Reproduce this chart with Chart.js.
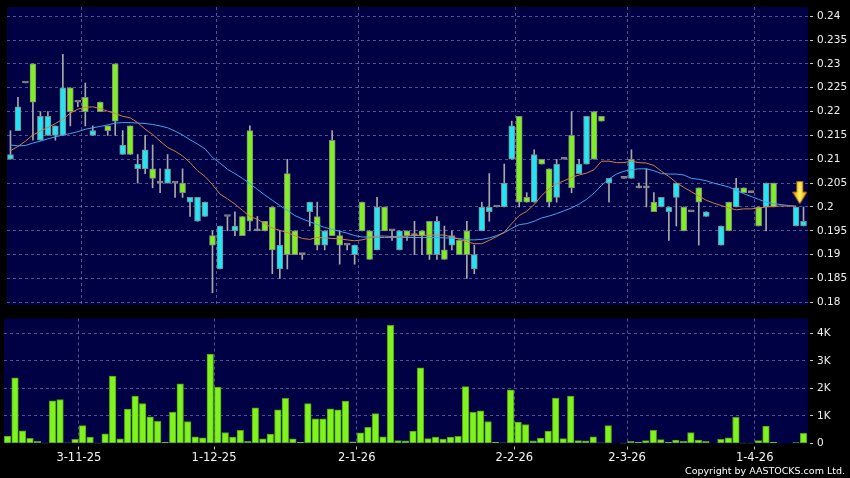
<!DOCTYPE html>
<html>
<head>
<meta charset="utf-8">
<script src="https://cdn.jsdelivr.net/npm/chart.js@4.4.1/dist/chart.umd.min.js"></script>
<style>
html, body { margin:0; padding:0; background:#000; }
#wrap { position:relative; width:850px; height:478px; overflow:hidden; background:#000; }
#price { position:absolute; left:0; top:0; }
#vol { position:absolute; left:0; top:312px; }
#copy { position:absolute; right:5px; top:465px; color:#fff; font-family:"DejaVu Sans", sans-serif; font-size:9.5px; line-height:12px; white-space:nowrap; }
</style>
</head>
<body>
<div id="wrap">
<canvas id="price" width="850" height="312"></canvas>
<canvas id="vol" width="850" height="166"></canvas>
<div id="copy">Copyright by AASTOCKS.com Ltd.</div>
</div>
<script>
// daily bars, oldest first (null = no trade that day)
var opens = [0.210,0.216,0.226,0.230,0.214,0.215,0.215,0.215,0.225,0.222,
  0.223,0.215,0.222,0.217,0.230,0.211,0.217,0.208,0.208,0.208,
  0.205,0.205,0.205,0.205,0.201,0.197,0.198,0.194,0.187,0.198,
  0.195,0.198,0.216,0.195,0.197,0.200,0.187,0.207,0.195,0.190,
  0.199,0.198,0.192,0.214,0.194,0.192,0.190,0.201,0.195,0.191,
  0.200,0.195,0.191,0.195,0.194,0.195,0.197,0.190,0.191,0.192,
  0.193,0.195,0.187,0.195,0.199,0.200,0.200,0.210,0.219,0.202,
  0.201,0.210,0.208,0.202,0.210,0.215,0.207,0.209,0.220,0.219,
  0.205,null,0.206,0.206,0.204,0.204,0.201,0.200,0.199,0.202,
  0.200,0.199,0.204,0.198,null,0.192,0.201,0.200,0.204,0.203,
  0.200,0.200,0.205,null,null,0.196,0.196];
var highs = [0.216,0.223,0.226,0.230,0.220,0.220,0.217,0.232,0.225,0.222,
  0.226,0.217,0.222,0.217,0.230,0.216,0.217,0.211,0.215,0.213,
  0.208,0.211,0.205,0.208,0.202,0.202,0.201,0.195,0.196,0.198,
  0.199,0.198,0.217,0.198,0.197,0.200,0.195,0.210,0.195,0.190,
  0.201,0.201,0.195,0.216,0.195,0.192,0.192,0.201,0.195,0.202,
  0.200,0.195,0.195,0.195,0.197,0.195,0.197,0.198,0.196,0.195,
  0.193,0.197,0.192,0.201,0.207,0.200,0.209,0.218,0.219,0.203,
  0.212,0.210,0.208,0.210,0.210,0.220,0.210,0.219,0.220,0.219,
  0.206,null,0.206,0.212,0.205,0.208,0.203,0.202,0.200,0.205,
  0.200,0.199,0.204,0.199,null,0.196,0.201,0.206,0.204,0.203,
  0.200,0.205,0.205,null,null,0.200,0.200];
var lows = [0.210,0.216,0.226,0.214,0.214,0.215,0.214,0.215,0.217,0.221,
  0.217,0.215,0.220,0.215,0.215,0.211,0.211,0.205,0.207,0.204,
  0.203,0.205,0.202,0.202,0.198,0.197,0.198,0.182,0.187,0.195,
  0.194,0.194,0.195,0.195,0.195,0.186,0.185,0.187,0.190,0.189,
  0.196,0.191,0.191,0.194,0.188,0.191,0.188,0.195,0.189,0.191,
  0.195,0.193,0.191,0.193,0.190,0.190,0.189,0.189,0.189,0.191,
  0.190,0.185,0.186,0.195,0.197,0.200,0.200,0.210,0.200,0.201,
  0.201,0.209,0.200,0.201,0.210,0.203,0.207,0.209,0.210,0.218,
  0.201,null,0.206,0.206,0.204,0.200,0.199,0.200,0.193,0.196,
  0.195,0.199,0.192,0.198,null,0.192,0.195,0.200,0.203,0.203,
  0.196,0.195,0.200,null,null,0.196,0.196];
var closes = [0.211,0.221,0.226,0.222,0.219,0.219,0.217,0.225,0.220,0.222,
  0.220,0.216,0.220,0.216,0.218,0.213,0.211,0.209,0.212,0.206,
  0.205,0.208,0.205,0.203,0.202,0.202,0.201,0.192,0.196,0.198,
  0.196,0.194,0.197,0.195,0.195,0.191,0.192,0.190,0.190,0.190,
  0.201,0.192,0.195,0.194,0.192,0.192,0.192,0.195,0.189,0.200,
  0.195,0.195,0.195,0.194,0.194,0.194,0.190,0.197,0.189,0.194,
  0.190,0.190,0.190,0.200,0.200,0.200,0.205,0.217,0.201,0.201,
  0.211,0.209,0.201,0.209,0.210,0.204,0.209,0.219,0.210,0.218,
  0.206,null,0.206,0.210,0.204,0.204,0.199,0.202,0.200,0.205,
  0.195,0.199,0.201,0.199,null,0.196,0.195,0.204,0.203,0.203,
  0.196,0.205,0.200,null,null,0.200,0.197];
// volume in thousands of shares
var volumes = [0.27,2.39,0.46,0.19,0.08,0.01,1.55,1.60,0.02,0.15,
  0.65,0.23,0.01,0.35,2.45,0.17,1.25,1.72,1.45,0.97,
  0.81,0.04,1.14,2.17,0.80,0.24,0.21,3.25,2.05,0.40,
  0.23,0.48,0.08,1.30,0.17,0.34,1.22,1.64,0.17,0.04,
  1.45,0.90,0.90,1.26,1.22,1.54,0.06,0.39,0.59,1.09,
  0.24,4.30,0.11,0.10,0.45,2.75,0.18,0.23,0.16,0.23,
  0.26,2.07,1.13,1.19,0.80,0.04,0.02,1.95,0.78,0.69,
  0.10,0.20,0.45,1.65,0.18,1.72,0.11,0.10,0.24,0.02,
  0.65,0,0.01,0.08,0.04,0.11,0.48,0.14,0.04,0.12,
  0.08,0.40,0.12,0.08,0,0.15,0.21,0.95,0.01,0.01,
  0.11,0.63,0.05,0,0,0.03,0.37];
// moving averages
var ma10 = [0.2118,0.2127,0.2138,0.2151,0.2159,0.2167,0.2175,0.2184,0.2197,0.2205,
  0.2209,0.2210,0.2206,0.2201,0.2196,0.2190,0.2187,0.2177,0.2163,0.2152,
  0.2138,0.2125,0.2117,0.2107,0.2093,0.2076,0.2064,0.2047,0.2027,0.2017,
  0.2006,0.1993,0.1980,0.1974,0.1965,0.1956,0.1951,0.1946,0.1940,0.1934,
  0.1932,0.1936,0.1935,0.1934,0.1933,0.1931,0.1929,0.1931,0.1935,0.1939,
  0.1939,0.1938,0.1938,0.1939,0.1940,0.1940,0.1941,0.1941,0.1941,0.1937,
  0.1932,0.1927,0.1923,0.1923,0.1930,0.1938,0.1947,0.1965,0.1982,0.1991,
  0.2005,0.2024,0.2038,0.2049,0.2055,0.2062,0.2067,0.2071,0.2078,0.2096,
  0.2096,0.2093,0.2093,0.2096,0.2093,0.2092,0.2087,0.2075,0.2064,0.2051,
  0.2041,0.2032,0.2023,0.2014,0.2008,0.2003,0.1998,0.1994,0.1996,0.1996,
  0.1998,0.2000,0.2001,0.2002,0.2002,0.2002,null];
var ma20 = [0.2130,0.2128,0.2129,0.2134,0.2138,0.2143,0.2147,0.2151,0.2154,0.2158,
  0.2163,0.2166,0.2169,0.2172,0.2176,0.2177,0.2177,0.2176,0.2175,0.2173,
  0.2170,0.2166,0.2159,0.2151,0.2141,0.2132,0.2122,0.2104,0.2092,0.2079,
  0.2070,0.2060,0.2049,0.2037,0.2025,0.2014,0.2003,0.1993,0.1982,0.1975,
  0.1969,0.1963,0.1957,0.1953,0.1949,0.1945,0.1940,0.1937,0.1937,0.1936,
  0.1936,0.1936,0.1936,0.1936,0.1936,0.1936,0.1936,0.1936,0.1935,0.1935,
  0.1934,0.1931,0.1931,0.1932,0.1935,0.1940,0.1946,0.1955,0.1963,0.1965,
  0.1970,0.1977,0.1981,0.1986,0.1992,0.1998,0.2006,0.2016,0.2029,0.2045,
  0.2059,0.2069,0.2075,0.2078,0.2080,0.2080,0.2076,0.2070,0.2069,0.2069,
  0.2067,0.2060,0.2058,0.2055,0.2050,0.2046,0.2042,0.2035,0.2028,0.2022,
  0.2016,0.2010,0.2007,0.2005,0.2003,0.2001,null];

// sell signal marker
var signalX = [105.5];
var signalY = [0.203];

// x axis date marks (bar index of the month boundary)
var dateLabels = ['3-11-25', '1-12-25', '2-1-26', '2-2-26', '2-3-26', '1-4-26'];
var dateIdx = [9.5, 27.5, 46.5, 67.5, 82.5, 99.5];
var priceTicks = [0.18, 0.185, 0.19, 0.195, 0.2, 0.205, 0.21, 0.215, 0.22, 0.225, 0.23, 0.235, 0.24];
var volTicks = [0, 1, 2, 3, 4];
var volTickLabels = ['0', '1K', '2K', '3K', '4K'];

var NAVY = '#000044';
var GRID = 'rgba(150,150,205,0.55)';
var UP = '#22e4f2';
var DOWN = '#80ef22';
var FONT = '"DejaVu Sans", sans-serif';

Chart.defaults.font.family = FONT;
Chart.defaults.color = '#f0f0f0';

var XMIN = -0.466, XMAX = 106.6;

var plotBg = {
    id: 'plotBg',
    beforeDraw: function(chart) {
        var a = chart.chartArea, c = chart.ctx;
        c.save();
        c.fillStyle = NAVY;
        c.fillRect(a.left, a.top, a.right - a.left, a.bottom - a.top);
        c.restore();
    }
};

function makeArrow() {
    var c = document.createElement('canvas');
    c.width = 15; c.height = 23;
    var g = c.getContext('2d');
    var grad = g.createLinearGradient(0, 0, 15, 0);
    grad.addColorStop(0, '#e9a000');
    grad.addColorStop(0.5, '#fff060');
    grad.addColorStop(1, '#e9a000');
    g.fillStyle = grad;
    g.strokeStyle = '#b07a00';
    g.lineWidth = 1;
    g.beginPath();
    g.moveTo(4.5, 0.5); g.lineTo(10.5, 0.5); g.lineTo(10.5, 11);
    g.lineTo(14.5, 11); g.lineTo(7.5, 22.5); g.lineTo(0.5, 11); g.lineTo(4.5, 11);
    g.closePath();
    g.fill(); g.stroke();
    return c;
}

var wick = [], body = [], bodyColor = [];
for (var i = 0; i < opens.length; i++) {
    if (opens[i] == null) continue;
    wick.push({x: i, y: [lows[i], highs[i]]});
    body.push({x: i, y: [opens[i], closes[i]]});
    if (closes[i] > opens[i]) bodyColor.push(UP);
    else if (closes[i] < opens[i]) bodyColor.push(DOWN);
    else bodyColor.push('#9a9a9a');
}
function xy(arr) {
    var out = [];
    for (var i = 0; i < arr.length; i++) out.push({x: i, y: arr[i]});
    return out;
}
var sig = [];
for (var k = 0; k < signalX.length; k++) sig.push({x: signalX[k], y: signalY[k]});

function dateTicks(scale) {
    scale.ticks = dateIdx.map(function(v) { return {value: v}; });
}

new Chart(document.getElementById('price'), {
    type: 'bar',
    data: {
        datasets: [
            { type: 'bar', data: wick, backgroundColor: '#a8a8a8', barThickness: 1, grouped: false, order: 4 },
            { type: 'bar', data: body, backgroundColor: bodyColor, borderColor: '#858585', borderWidth: 1,
              borderSkipped: false, barThickness: 6, minBarLength: 2, grouped: false, order: 3 },
            { type: 'line', data: xy(ma20), borderColor: '#3ea6ea', borderWidth: 1, pointRadius: 0, tension: 0, order: 2 },
            { type: 'line', data: xy(ma10), borderColor: '#d87c40', borderWidth: 1, pointRadius: 0, tension: 0, order: 1 },
            { type: 'line', data: sig, showLine: false, pointStyle: makeArrow(), pointRadius: 6, order: 0 }
        ]
    },
    options: {
        responsive: false,
        animation: false,
        events: [],
        layout: { padding: { left: 4, top: 6, right: 0, bottom: 6 } },
        plugins: { legend: { display: false }, tooltip: { enabled: false } },
        scales: {
            x: {
                type: 'linear', min: XMIN, max: XMAX, offset: false,
                afterBuildTicks: dateTicks,
                afterFit: function(s) { s.height = 0; s.paddingLeft = 0; s.paddingRight = 0; },
                ticks: { display: false },
                grid: { color: GRID, drawTicks: false, offset: false },
                border: { display: false, dash: [3, 3] }
            },
            y: {
                position: 'right', min: 0.179438, max: 0.241938,
                afterBuildTicks: function(s) { s.ticks = priceTicks.map(function(v) { return {value: v}; }); },
                afterFit: function(s) { s.width = 42; s.paddingTop = 0; s.paddingBottom = 0; },
                ticks: { font: { size: 10.5 }, color: '#f0f0f0', padding: 3,
                         callback: function(v) { return String(Number(v.toFixed(3))); } },
                grid: { color: GRID, tickLength: 6, tickColor: '#c8c8c8', tickBorderDash: [0, 2, 3, 20] },
                border: { display: false, dash: [3, 3] }
            }
        }
    },
    plugins: [plotBg]
});

new Chart(document.getElementById('vol'), {
    type: 'bar',
    data: {
        datasets: [
            { data: xy(volumes), backgroundColor: '#80f21e', borderColor: '#4f9f16', borderWidth: 1,
              borderSkipped: false, barThickness: 6.6 }
        ]
    },
    options: {
        responsive: false,
        animation: false,
        events: [],
        layout: { padding: { left: 4, top: 6.5, right: 0, bottom: 0 } },
        plugins: { legend: { display: false }, tooltip: { enabled: false } },
        scales: {
            x: {
                type: 'linear', min: XMIN, max: XMAX, offset: false,
                afterBuildTicks: dateTicks,
                afterFit: function(s) { s.height = 34.5; s.paddingLeft = 0; s.paddingRight = 0; },
                ticks: { font: { size: 11.5 }, color: '#f4f4f4', padding: 2, maxRotation: 0, autoSkip: false,
                         callback: function(v) { var j = dateIdx.indexOf(v); return j < 0 ? '' : dateLabels[j]; } },
                grid: { color: GRID, tickLength: 6, tickColor: '#c8c8c8', tickBorderDash: [0, 2.5, 3, 20], offset: false },
                border: { display: false, dash: [3, 3] }
            },
            y: {
                position: 'right', min: 0, max: 4.545,
                afterBuildTicks: function(s) { s.ticks = volTicks.map(function(v) { return {value: v}; }); },
                afterFit: function(s) { s.width = 42; s.paddingTop = 0; s.paddingBottom = 0; },
                ticks: { font: { size: 10.5 }, color: '#f0f0f0', padding: 3,
                         callback: function(v) { var j = volTicks.indexOf(v); return j < 0 ? '' : volTickLabels[j]; } },
                grid: { color: function(c) { return c.tick && c.tick.value === 0 ? 'rgba(0,0,0,0)' : GRID; },
                        tickLength: 6, tickColor: '#c8c8c8', tickBorderDash: [0, 2, 3, 20] },
                border: { display: false, dash: [3, 3] }
            }
        }
    },
    plugins: [plotBg]
});
</script>
</body>
</html>
